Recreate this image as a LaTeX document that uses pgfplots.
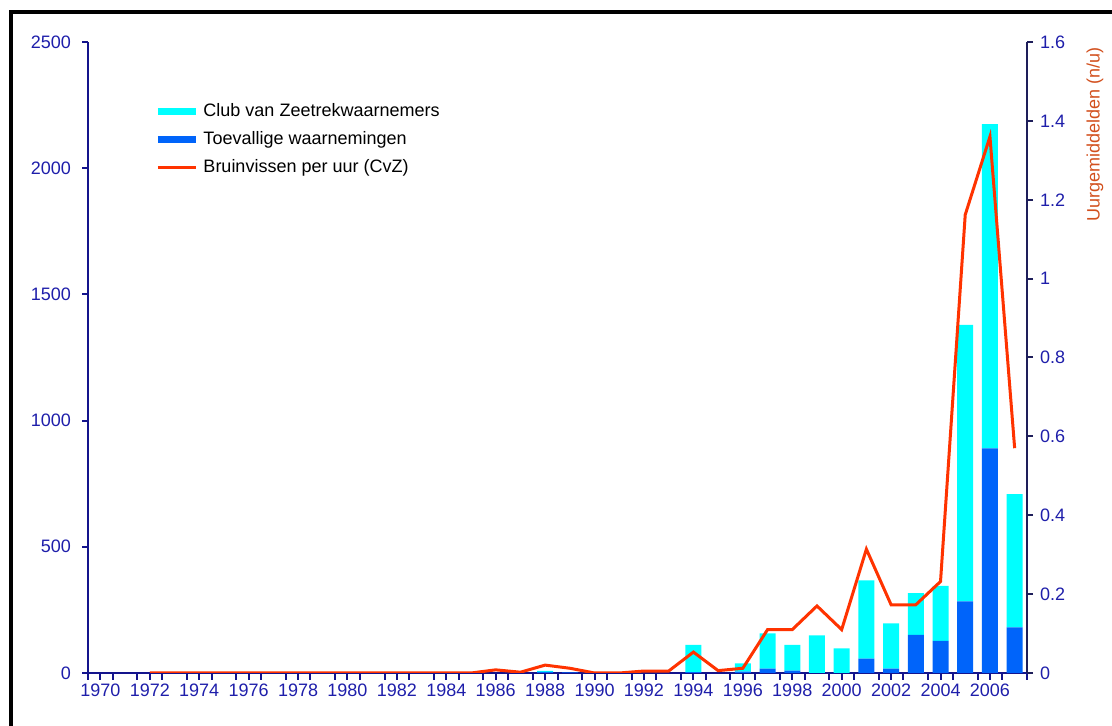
\documentclass[border=0pt]{standalone}
\usepackage{fontspec}
\setmainfont{Liberation Sans}
\usepackage{pgfplots}
\pgfplotsset{compat=1.18}
\definecolor{clubcyan}{RGB}{0,255,255}
\definecolor{toevblue}{RGB}{0,100,250}
\definecolor{bvred}{RGB}{255,51,0}
\definecolor{axnavy}{RGB}{20,20,140}
\definecolor{axdark}{RGB}{30,30,90}
\definecolor{lblblue}{RGB}{30,30,170}
\definecolor{lblorange}{RGB}{210,80,30}

\begin{document}
\begin{tikzpicture}
\pgfplotsset{
  common/.style={
    scale only axis, width=469.5pt, height=315.5pt,
    at={(44pt,26.5pt)}, anchor=south west,
    xmin=1969.5, xmax=2007.5,
    tick align=outside, major tick length=3pt,
    ticklabel style={font=\fontsize{9}{10}\selectfont, text=lblblue},
    /pgf/number format/assume math mode=true,
    /pgf/number format/1000 sep={},
  }
}
% bars, left axis
\begin{axis}[common,
  axis x line*=bottom, axis y line*=left,
  axis line style={axnavy, line width=1pt},
  tick style={axnavy, line width=1pt},
  ymin=0, ymax=2500, ytick={0,500,...,2500},
  yticklabel style={xshift=-2pt},
  xtick={1969.5,1970.5,...,2007.5}, xticklabels={,,},
  major x tick style={/pgfplots/major tick length=3.5pt},
  extra x ticks={1970,1972,...,2006},
  extra x tick labels={1970,1972,1974,1976,1978,1980,1982,1984,1986,1988,1990,1992,1994,1996,1998,2000,2002,2004,2006},
  extra x tick style={major tick length=0pt, xticklabel style={yshift=-2pt}},
  ybar stacked, bar width=8pt,
]
\addplot[fill=toevblue, draw=none] coordinates {
 (1988,4) (1989,2) (1994,3) (1996,5) (1997,17) (1998,9) (1999,0) (2000,0)
 (2001,57) (2002,17) (2003,151) (2004,127) (2005,284) (2006,890) (2007,181)};
\addplot[fill=clubcyan, draw=none] coordinates {
 (1988,4) (1989,0) (1994,108) (1996,33) (1997,140) (1998,102) (1999,149) (2000,98)
 (2001,310) (2002,180) (2003,165) (2004,218) (2005,1095) (2006,1285) (2007,528)};
\end{axis}
% line, right axis
\begin{axis}[common, name=ax2,
  axis y line*=right, axis x line=none,
  axis line style={axdark, line width=1pt},
  tick style={axdark, line width=1pt},
  ymin=0, ymax=1.6, ytick={0,0.2,0.4,0.6,0.8,1,1.2,1.4,1.6},
  yticklabel style={/pgf/number format/fixed, /pgf/number format/precision=1},
  legend cell align=left,
  legend style={at={(0.064,0.916)}, anchor=north west, draw=none, fill=none,
    font=\fontsize{9}{10}\selectfont, row sep=2pt},
  legend image code/.code={\draw[#1] (0pt,0pt) -- (19pt,0pt);},
]
\addlegendimage{clubcyan, line width=3.5pt}
\addlegendentry{Club van Zeetrekwaarnemers}
\addlegendimage{toevblue, line width=3.5pt}
\addlegendentry{Toevallige waarnemingen}
\addplot[bvred, line width=1.5pt, mark=none] coordinates {
 (1972,0) (1973,0) (1974,0) (1975,0) (1976,0) (1977,0) (1978,0) (1979,0)
 (1980,0) (1981,0) (1982,0) (1983,0) (1984,0) (1985,0) (1986,0.008) (1987,0.002)
 (1988,0.02) (1989,0.012) (1990,0) (1991,0) (1992,0.005) (1993,0.005) (1994,0.053)
 (1995,0.006) (1996,0.012) (1997,0.11) (1998,0.11) (1999,0.17) (2000,0.11)
 (2001,0.314) (2002,0.173) (2003,0.173) (2004,0.232) (2005,1.162) (2006,1.36) (2007,0.57)};
\addlegendentry{Bruinvissen per uur (CvZ)}
\end{axis}
\node[rotate=90, anchor=east, text=lblorange, font=\fontsize{9}{10}\selectfont]
  at ([xshift=34pt,yshift=1pt]ax2.north east) {Uurgemiddelden (n/u)};
\draw[black, line width=2pt] (5.5pt,-5pt) -- (5.5pt,357pt) -- (570pt,357pt);
\pgfresetboundingbox
\path[use as bounding box] (0,0) rectangle (556pt,363pt);
\end{tikzpicture}
\end{document}
